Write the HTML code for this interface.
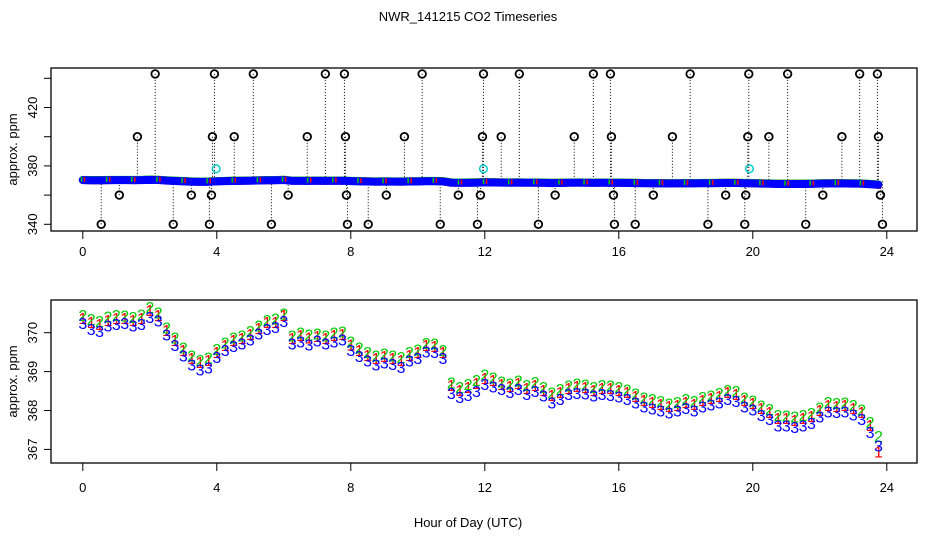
<!DOCTYPE html>
<html><head><meta charset="utf-8"><style>
body{margin:0;background:#fff}
svg{display:block;font-family:"Liberation Sans",sans-serif}
</style></head><body>
<svg id="c" width="936" height="540" viewBox="0 0 936 540">
<text x="468" y="21" font-size="13" text-anchor="middle">NWR_141215  CO2 Timeseries</text>
<text x="468" y="527" font-size="13" text-anchor="middle">Hour of Day (UTC)</text>
</svg>
<script>
const hours=[];for(let i=0;i<96;i++)hours.push(i*0.25);
const series1=[370.38,370.28,370.22,370.33,370.38,370.38,370.33,370.38,370.58,370.46,370.07,369.81,369.56,369.35,369.25,369.30,
369.50,369.68,369.81,369.86,369.97,370.12,370.28,370.28,370.45,369.86,369.94,369.88,369.92,369.86,369.94,369.97,
369.70,369.56,369.43,369.35,369.40,369.35,369.30,369.43,369.50,369.68,369.66,369.50,368.66,368.53,368.60,368.71,
368.84,368.78,368.68,368.63,368.71,368.58,368.66,368.53,368.40,368.47,368.58,368.63,368.60,368.53,368.58,368.58,
368.53,368.47,368.37,368.27,368.22,368.17,368.12,368.14,368.22,368.17,368.27,368.32,368.37,368.47,368.42,368.27,
368.19,368.06,367.96,367.81,367.81,367.76,367.81,367.86,368.01,368.14,368.12,368.14,368.06,367.96,367.63,366.95];
const series2=[370.45,370.35,370.30,370.42,370.46,370.44,370.40,370.47,370.66,370.52,370.14,369.88,369.62,369.42,369.30,369.36,
369.58,369.75,369.88,369.93,370.04,370.18,370.33,370.36,370.50,369.93,370.00,369.95,369.98,369.93,370.01,370.03,
369.77,369.62,369.50,369.42,369.46,369.41,369.38,369.50,369.57,369.74,369.72,369.56,368.72,368.60,368.68,368.78,
368.92,368.85,368.75,368.70,368.77,368.66,368.73,368.60,368.46,368.55,368.64,368.70,368.67,368.60,368.65,368.64,
368.60,368.54,368.44,368.33,368.30,368.24,368.18,368.22,368.29,368.24,368.35,368.38,368.45,368.53,368.50,368.34,
368.26,368.13,368.04,367.88,367.87,367.84,367.88,367.93,368.08,368.22,368.19,368.21,368.14,368.03,367.70,367.35];
const series3=[370.25,370.10,370.05,370.18,370.22,370.25,370.18,370.22,370.40,370.32,369.95,369.68,369.42,369.18,369.05,369.10,
369.38,369.55,369.66,369.72,369.82,369.98,370.10,370.15,370.30,369.72,369.78,369.70,369.80,369.72,369.78,369.82,
369.56,369.40,369.28,369.18,369.24,369.20,369.12,369.28,369.35,369.52,369.50,369.35,368.45,368.35,368.40,368.50,
368.68,368.62,368.55,368.48,368.55,368.42,368.50,368.38,368.20,368.30,368.42,368.45,368.44,368.38,368.42,368.40,
368.36,368.30,368.20,368.10,368.05,368.00,367.95,368.00,368.06,368.00,368.10,368.15,368.20,368.30,368.25,368.10,
368.02,367.88,367.78,367.62,367.62,367.58,367.62,367.68,367.84,367.98,367.96,367.98,367.90,367.78,367.45,367.10];
const outlierHours=[0.55,1.09,1.63,2.16,2.70,3.24,3.78,3.84,3.87,3.93,4.52,5.09,5.63,6.13,6.70,7.24,7.81,7.84,7.87,7.90,8.52,9.06,9.60,10.13,10.67,11.21,11.78,11.87,11.93,11.96,12.49,13.03,13.60,14.10,14.67,15.24,15.75,15.78,15.84,15.87,16.49,17.03,17.60,18.13,18.66,19.19,19.76,19.79,19.85,19.88,20.48,21.04,21.58,22.09,22.66,23.19,23.72,23.75,23.81,23.87];
const outlierValues=[340,360,400,443,340,360,340,360,400,443,400,443,340,360,400,443,443,400,360,340,340,360,400,443,340,360,340,360,400,443,400,443,340,360,400,443,443,400,360,340,340,360,400,443,340,360,340,360,400,443,400,443,340,360,400,443,443,400,360,340];
const calHours=[3.98,11.96,19.9];
const calValues=[378,378,378];
const xTicks=[0,4,8,12,16,20,24];
const topYTicks=[340,360,380,400,420,440];
const topYLabels=["340","","380","","420",""];
const botYTicks=[367,368,369,370];

const NS="http://www.w3.org/2000/svg";
const svg=document.getElementById('c');
function mk(tag,attrs,parent){const e=document.createElementNS(NS,tag);for(const k in attrs)e.setAttribute(k,attrs[k]);(parent||svg).appendChild(e);return e;}
const X=h=>82.8+h*33.5;
const L=51,R=917;
const Yt=v=>224.3-(v-340)*29.2/20;
const Yb=v=>332.7-(v-370)*38.9;

function panel(name,top,bottom,yTicks,yLabels,Y,labelY){
  const g=mk('g',{});
  
  
  const box=mk('rect',{x:L,y:top,width:R-L,height:bottom-top,fill:'none',stroke:'#000','stroke-width':1.3},g);
  
  
  xTicks.forEach(t=>{
    const tk=mk('line',{x1:X(t),x2:X(t),y1:bottom,y2:bottom+8,stroke:'#000'},g);
    
    
    const tx=mk('text',{x:X(t),y:labelY,'font-size':13,'text-anchor':'middle'},g);
    tx.textContent=t;
    
    
  });
  yTicks.forEach((t,i)=>{
    const y=Y(t);
    const tk=mk('line',{x1:L-7,x2:L,y1:y,y2:y,stroke:'#000'},g);
    
    
    const lab=yLabels?yLabels[i]:String(t);
    if(lab){
      const tx=mk('text',{x:0,y:0,'font-size':13,'text-anchor':'middle',transform:`translate(37,${y}) rotate(-90)`},g);
      tx.textContent=lab;
      
      
    }
  });
  const yt=mk('text',{x:0,y:0,'font-size':13,'text-anchor':'middle',transform:`translate(17,${(top+bottom)/2}) rotate(-90)`},g);
  yt.textContent='approx. ppm';
  
  
}
panel('top-panel',68,231,topYTicks,topYLabels,Yt,256);
panel('bottom-panel',300,463,botYTicks,null,Yb,492);

// top panel: outlier dotted lines
outlierHours.forEach((h,i)=>{
  const ln=mk('line',{x1:X(h),x2:X(h),y1:Yt(outlierValues[i]),y2:Yt(369.5),stroke:'#000','stroke-width':1,'stroke-dasharray':'1,2'});
  
  
});
// top panel band
[[series1,'#f00'],[series2,'#0c0'],[series3,'#00f']].forEach(([s,c])=>{
  const pts=s.map((v,i)=>X(hours[i])+','+Yt(v)).join(' ');
  const pl=mk('polyline',{points:pts,fill:'none',stroke:c,'stroke-width':8,'stroke-linecap':'round','stroke-linejoin':'round'});
  
  
});
[[series1,'#f00'],[series2,'#0c0']].forEach(([s,c])=>{
  s.forEach((v,i)=>{
    if(i%3!==0)return;
    const ci=mk('rect',{x:X(hours[i])+(c==='#f00'?1:-2),y:Yt(v)-3,width:1.5,height:5,fill:c});
    
    
  });
});
outlierHours.forEach((h,i)=>{
  const ci=mk('circle',{cx:X(h),cy:Yt(outlierValues[i]),r:3.8,fill:'none',stroke:'#000','stroke-width':1.8});
  
  
});
calHours.forEach((h,i)=>{
  const ci=mk('circle',{cx:X(h),cy:Yt(calValues[i]),r:3.8,fill:'none',stroke:'#0cc','stroke-width':1.5});
  
  
});
// bottom panel symbols
[[series1,'#f00','1'],[series2,'#0c0','2'],[series3,'#00f','3']].forEach(([s,c,sym])=>{
  s.forEach((v,i)=>{
    const t=mk('text',{x:X(hours[i]),y:Yb(v)+6,'font-size':16,'text-anchor':'middle',fill:c});
    t.textContent=sym;
    
    
  });
});
</script>
</body></html>
